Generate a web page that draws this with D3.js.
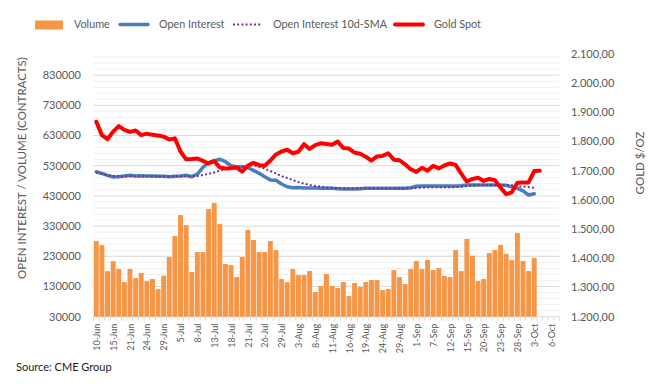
<!DOCTYPE html>
<html>
<head>
<meta charset="utf-8">
<script src="https://cdn.jsdelivr.net/npm/d3@7"></script>
<style>
  body { margin: 0; background: #fff; }
  text { font-family: Lato, "Open Sans", sans-serif; }
</style>
</head>
<body>
<svg id="chart" width="658" height="388"></svg>
<script>
// trading days on the category axis (last few are empty)
const dates = ["10-Jun","13-Jun","14-Jun","15-Jun","16-Jun","17-Jun","21-Jun","22-Jun","23-Jun","24-Jun","27-Jun","28-Jun","29-Jun","30-Jun",
  "1-Jul","5-Jul","6-Jul","7-Jul","8-Jul","11-Jul","12-Jul","13-Jul","14-Jul","15-Jul","18-Jul","19-Jul","20-Jul","21-Jul","22-Jul","25-Jul","26-Jul","27-Jul","28-Jul","29-Jul",
  "1-Aug","2-Aug","3-Aug","4-Aug","5-Aug","8-Aug","9-Aug","10-Aug","11-Aug","12-Aug","15-Aug","16-Aug","17-Aug","18-Aug","19-Aug","22-Aug","23-Aug","24-Aug","25-Aug","26-Aug","29-Aug","30-Aug","31-Aug",
  "1-Sep","2-Sep","6-Sep","7-Sep","8-Sep","9-Sep","12-Sep","13-Sep","14-Sep","15-Sep","16-Sep","19-Sep","20-Sep","21-Sep","22-Sep","23-Sep","26-Sep","27-Sep","28-Sep","29-Sep","30-Sep",
  "3-Oct","4-Oct","5-Oct","6-Oct","7-Oct"];

const volume = [280500,267000,181000,214000,188000,145000,188000,158000,174600,148000,
  154700,121600,165800,227600,297000,366600,333500,177900,244000,244000,
  386500,406400,336800,204400,201000,161300,227600,317000,283900,244000,
  244000,280500,250700,154700,144800,187800,168000,168000,181200,111700,
  131500,171300,131500,124900,144800,98400,141500,128200,144800,151400,
  151400,118300,121600,184500,161300,138200,187800,214300,187800,217600,
  184500,191100,164700,161300,250700,181200,287200,232000,148100,154700,
  240800,250700,267300,237500,217600,307000,214300,181200,224300];

const openInterest = [510000,504800,498200,492600,493700,495900,498200,495900,497000,495900,
  495900,494800,494800,493700,494800,495900,498200,493700,502500,524600,
  540000,546600,551200,543300,530000,526700,526700,523400,514700,504800,
  493600,482600,482000,469400,460500,457200,457800,456000,456000,456000,
  455200,455000,455000,454000,453000,453000,453000,454000,455000,455200,
  455200,455200,455200,455200,455200,455200,457000,462000,462800,462800,
  462800,462800,462800,462800,462800,463500,466000,466000,466000,466000,
  466000,466000,466000,465000,460000,455000,447000,433000,437000];

const oiSma = [506800,502500,498200,495900,495500,495500,495500,495500,495500,495500,
  495500,495500,495500,495500,495500,495500,495500,495500,495900,499200,
  503500,507800,513400,518000,521300,524600,526700,529000,531300,526700,
  520000,512400,504800,495500,489300,482600,476000,470400,466100,462800,
  460500,458500,457000,456000,455000,455000,455000,455000,455000,455000,
  455000,455000,455000,455000,455000,455000,455500,456500,457500,458500,
  459000,459000,459000,459000,459000,461000,463000,465000,466000,466000,
  466000,466000,466000,466000,465000,463000,461000,459000,457000];

const goldSpot = [1868,1822,1808,1834,1853,1840,1833,1838,1822,1827,
  1823,1821,1817,1807,1811,1766,1739,1740,1742,1734,
  1725,1733,1711,1708,1709,1711,1697,1718,1727,1719,
  1717,1735,1756,1766,1772,1760,1765,1791,1775,1788,
  1794,1792,1789,1800,1778,1776,1762,1758,1748,1735,
  1749,1751,1760,1738,1736,1722,1705,1696,1710,1700,
  1717,1708,1718,1725,1720,1690,1663,1672,1676,1665,
  1672,1668,1642,1620,1626,1659,1660,1660,1699,1700];

const volTicks = [30000,130000,230000,330000,430000,530000,630000,730000,830000];
const goldTicks = [1200,1300,1400,1500,1600,1700,1800,1900,2000,2100];

const plotLeft = 93.5, plotRight = 559.5, plotTop = 54, plotBottom = 316.7;

const svg = d3.select("#chart");

const x = d3.scaleBand().domain(d3.range(dates.length)).range([plotLeft, plotRight]).paddingInner(0.12).paddingOuter(0.06);
const yL = d3.scaleLinear().domain([30000, 900000]).range([plotBottom, plotTop]);
const yR = d3.scaleLinear().domain([1200, 2100]).range([plotBottom, plotTop]);
const cx = i => x(i) + x.bandwidth() / 2;

// minor + major gridlines (left axis)
svg.append("g").selectAll("line").data(d3.range(50000, 900000, 20000)).enter()
  .append("line")
    .attr("x1", plotLeft).attr("x2", plotRight)
    .attr("y1", d => yL(d)).attr("y2", d => yL(d))
    .attr("stroke", d => (d - 30000) % 100000 === 0 ? "#d9d9d9" : "#f0f0f0")
    .attr("stroke-width", 1);

// category tick marks under the axis
svg.append("g").selectAll("line").data(d3.range(dates.length + 1)).enter()
  .append("line")
    .attr("x1", i => plotLeft + i * (plotRight - plotLeft) / dates.length)
    .attr("x2", i => plotLeft + i * (plotRight - plotLeft) / dates.length)
    .attr("y1", plotBottom).attr("y2", plotBottom + 4)
    .attr("stroke", "#d9d9d9");
svg.append("line").attr("x1", plotLeft).attr("x2", plotRight).attr("y1", plotBottom).attr("y2", plotBottom).attr("stroke", "#d9d9d9");

// volume bars
svg.append("g").selectAll("rect").data(volume).enter()
  .append("rect")
    .attr("x", (d, i) => x(i))
    .attr("width", x.bandwidth())
    .attr("y", d => yL(d))
    .attr("height", d => plotBottom - yL(d))
    .attr("fill", "#f79646");

function drawLine(values, scale, color, width, dash) {
  const line = d3.line().x((d, i) => cx(i)).y(d => scale(d));
  const p = svg.append("path").datum(values)
    .attr("d", line)
    .attr("fill", "none")
    .attr("stroke", color)
    .attr("stroke-width", width);
  if (dash) p.attr("stroke-dasharray", dash).attr("stroke-linecap", "butt");
  else p.attr("stroke-linejoin", "round").attr("stroke-linecap", "round");
}

drawLine(openInterest, yL, "#4a7ebb", 3.5);
drawLine(oiSma, yL, "#7030a0", 2, "2,2.2");
drawLine(goldSpot, yR, "#ff0000", 4);

// left axis labels
svg.append("g").selectAll("text").data(volTicks).enter()
  .append("text")
    .attr("x", 81).attr("y", d => yL(d))
    .attr("dy", "0.35em")
    .attr("text-anchor", "end")
    .attr("font-size", 11)
    .attr("fill", "#595959")
    .text(d => d);

// right axis labels (european number format)
const fmtGold = v => d3.format(",.2f")(v).replace(/,/g, "#").replace(".", ",").replace(/#/g, ".");
svg.append("g").selectAll("text").data(goldTicks).enter()
  .append("text")
    .attr("x", 571).attr("y", d => yR(d))
    .attr("dy", "0.35em")
    .attr("font-size", 11)
    .attr("fill", "#595959")
    .text(fmtGold);

// x labels every 3rd category
svg.append("g").selectAll("text").data(dates.map((d, i) => [d, i]).filter(d => d[1] % 3 === 0)).enter()
  .append("text")
    .attr("transform", d => `translate(${cx(d[1]) + 0.5},${plotBottom + 7}) rotate(-90)`)
    .attr("dy", "0.35em")
    .attr("text-anchor", "end")
    .attr("font-size", 9)
    .attr("fill", "#595959")
    .text(d => d[0]);

// axis titles
svg.append("text")
  .attr("transform", "translate(22,168) rotate(-90)")
  .attr("dy", "0.35em")
  .attr("text-anchor", "middle")
  .attr("font-size", 11.5)
  .attr("fill", "#595959")
  .text("OPEN INTEREST / VOLUME (CONTRACTS)");

svg.append("text")
  .attr("transform", "translate(640,163) rotate(-90)")
  .attr("dy", "0.35em")
  .attr("text-anchor", "middle")
  .attr("font-size", 11.5)
  .attr("fill", "#595959")
  .text("GOLD $/OZ");

// legend
const legend = svg.append("g");
legend.append("rect").attr("x", 35).attr("y", 20.5).attr("width", 28).attr("height", 9).attr("fill", "#f79646");
legend.append("line").attr("x1", 120).attr("x2", 148).attr("y1", 24.5).attr("y2", 24.5)
  .attr("stroke", "#4a7ebb").attr("stroke-width", 3.5).attr("stroke-linecap", "round");
legend.append("line").attr("x1", 233).attr("x2", 262).attr("y1", 24.5).attr("y2", 24.5)
  .attr("stroke", "#7030a0").attr("stroke-width", 2).attr("stroke-dasharray", "2,2.2");
legend.append("line").attr("x1", 395).attr("x2", 423).attr("y1", 24.5).attr("y2", 24.5)
  .attr("stroke", "#ff0000").attr("stroke-width", 4).attr("stroke-linecap", "round");
const legendText = [["Volume", 74], ["Open Interest", 159], ["Open Interest 10d-SMA", 273], ["Gold Spot", 434]];
legend.selectAll("text").data(legendText).enter()
  .append("text")
    .attr("x", d => d[1]).attr("y", 24.5)
    .attr("dy", "0.35em")
    .attr("font-size", 10.8)
    .attr("fill", "#595959")
    .text(d => d[0]);

// source note
svg.append("text")
  .attr("x", 16).attr("y", 367)
  .attr("dy", "0.35em")
  .attr("font-size", 11)
  .attr("fill", "#1a1a1a")
  .text("Source: CME Group");
</script>
</body>
</html>
